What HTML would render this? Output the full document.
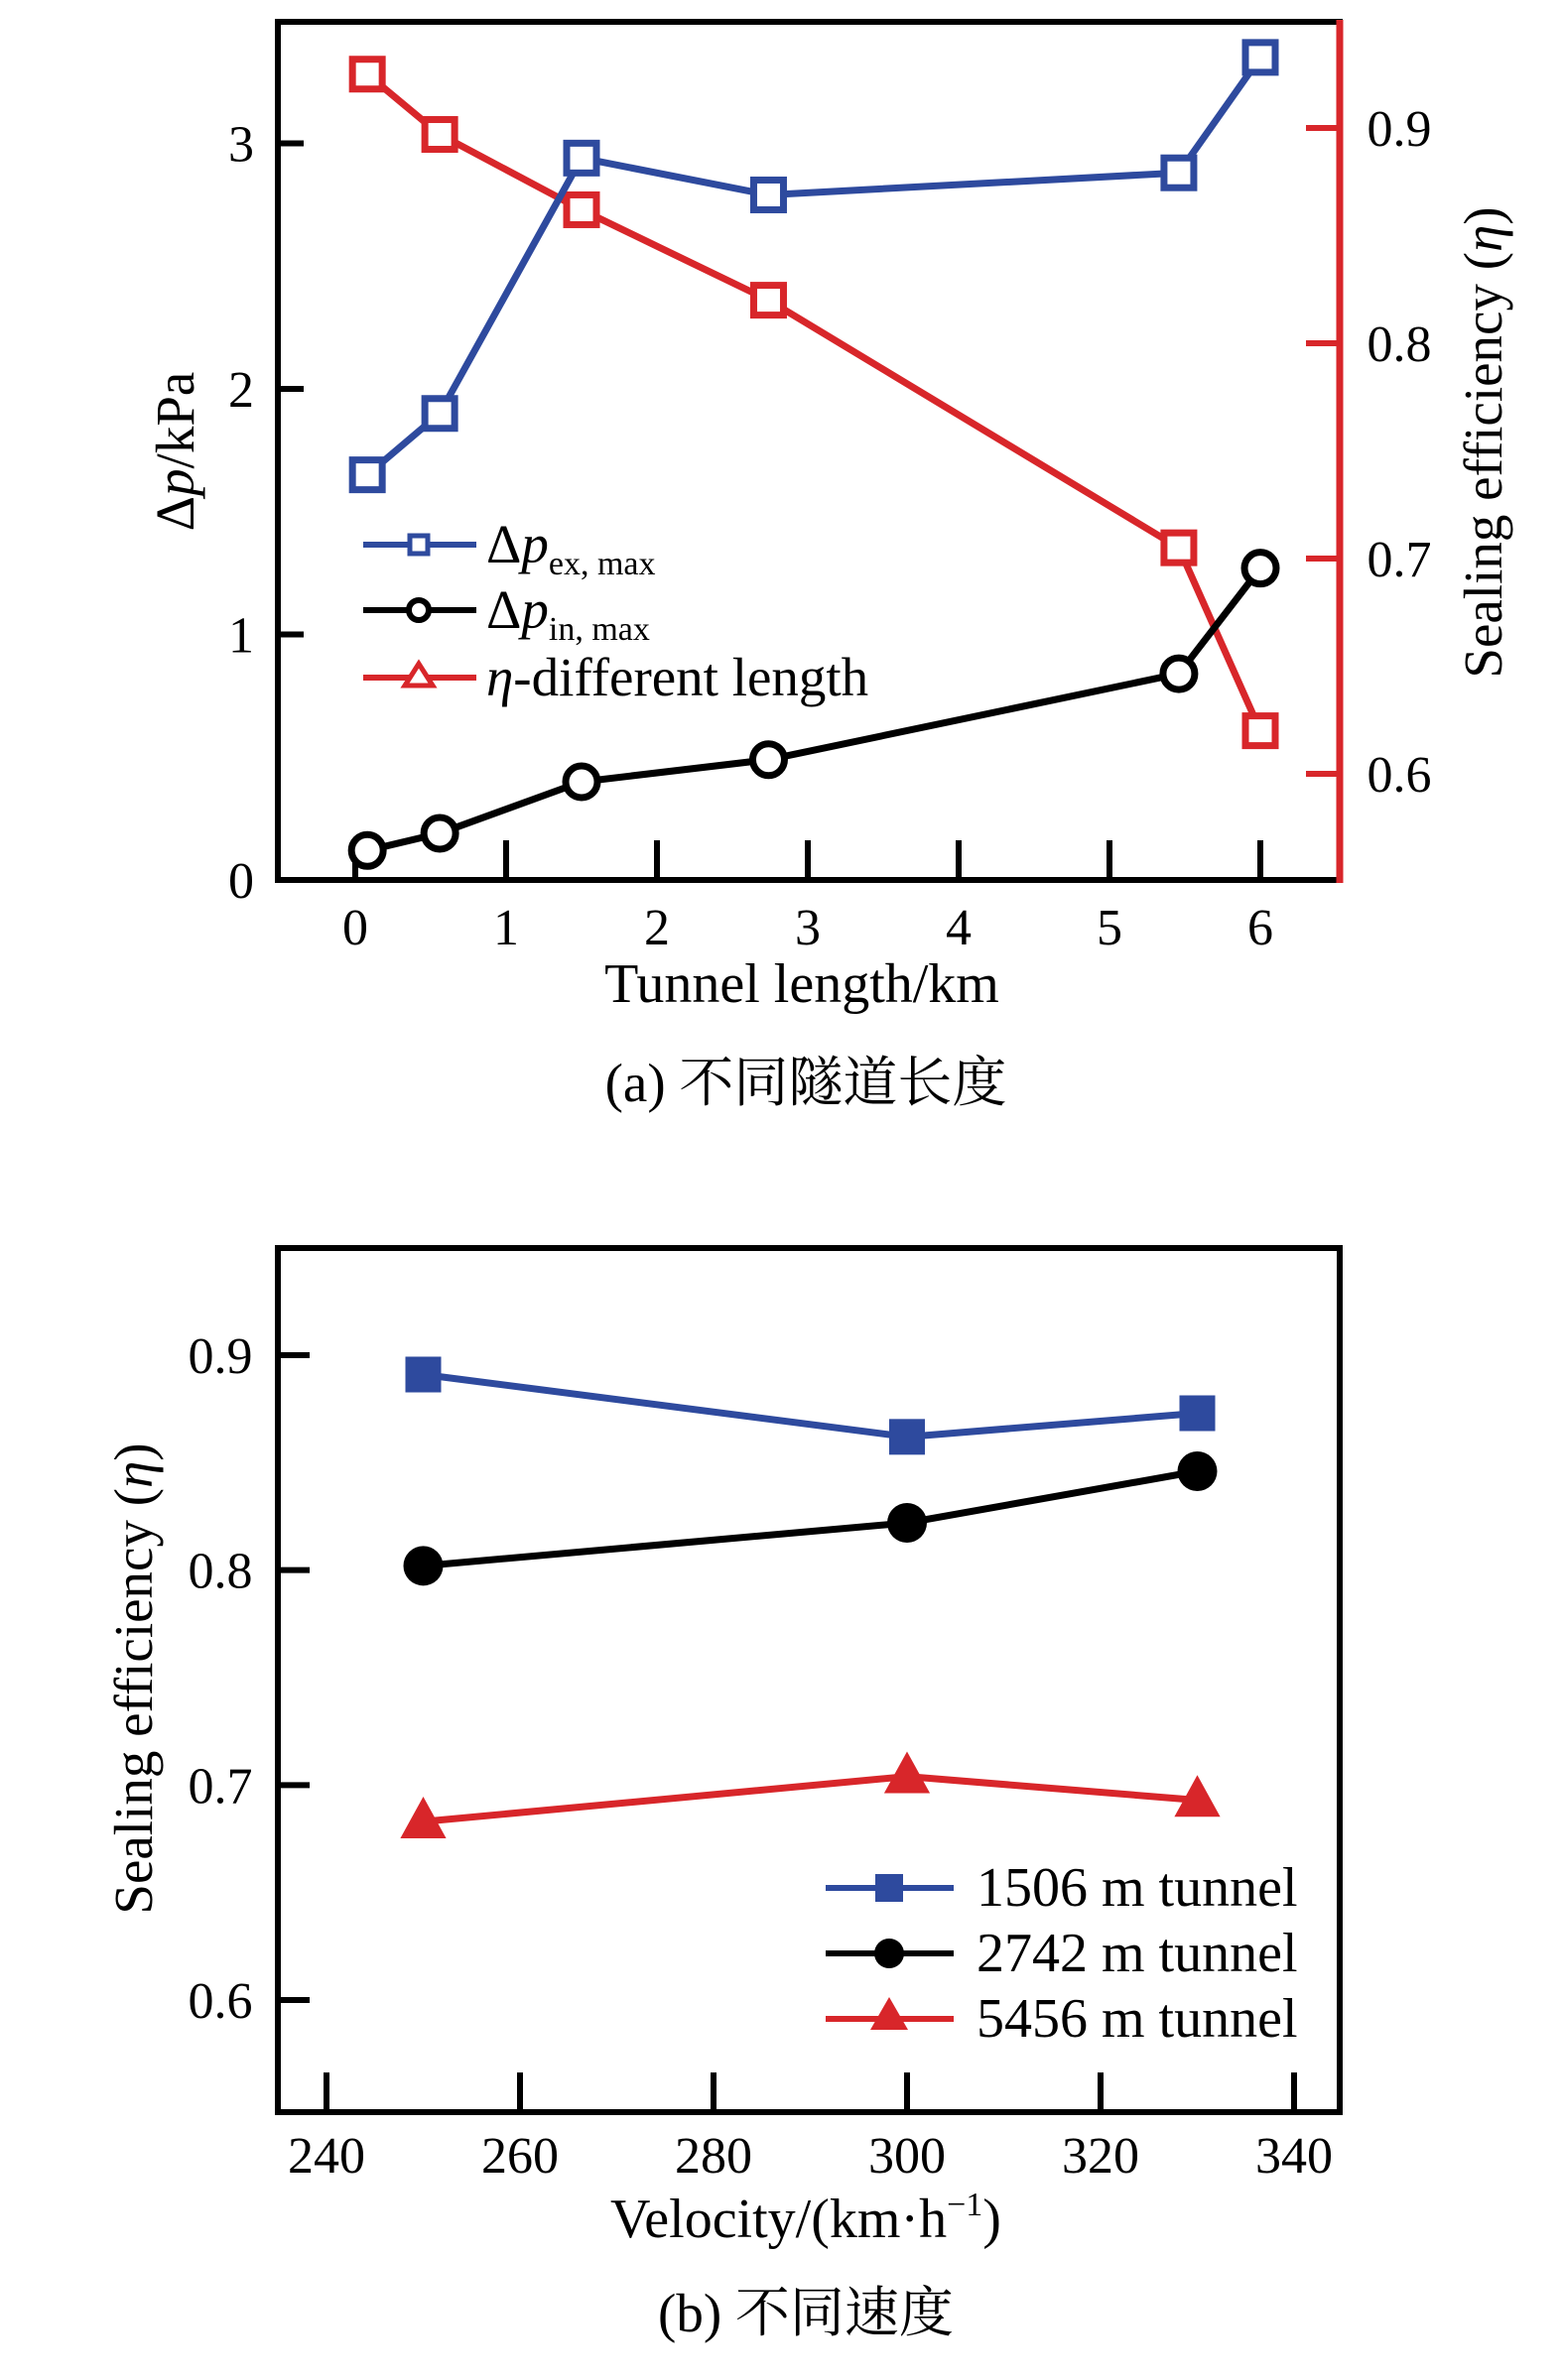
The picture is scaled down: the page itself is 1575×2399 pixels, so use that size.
<!DOCTYPE html>
<html><head><meta charset="utf-8"><style>
body{margin:0;background:#fff}
svg text{font-family:"Liberation Serif","Noto Serif CJK SC",serif}
</style></head><body>
<svg width="1575" height="2394" viewBox="0 0 1575 2394" xmlns="http://www.w3.org/2000/svg">
<g id="ca"></g>
<g id="cb"></g>
</svg>
<script>
const lenX=[0.08,0.56,1.5,2.74,5.46,6.0];
const dpEx=[1.65,1.9,2.94,2.79,2.88,3.35];
const dpIn=[0.12,0.19,0.4,0.49,0.84,1.27];
const etaLen=[0.925,0.897,0.862,0.82,0.705,0.62];
const xTicksA=[0,1,2,3,4,5,6];
const yTicksA=[0,1,2,3];
const yTicksR=[0.6,0.7,0.8,0.9];
const velX=[250,300,330];
const eta1506=[0.891,0.862,0.873];
const eta2742=[0.802,0.822,0.846];
const eta5456=[0.683,0.704,0.693];
const xTicksB=[240,260,280,300,320,340];
const yTicksB=[0.6,0.7,0.8,0.9];
const NS="http://www.w3.org/2000/svg";
const BLUE="#2e4a9e",RED="#d8262a";
function mk(p,t,a,txt){const e=document.createElementNS(NS,t);for(const k in a)e.setAttribute(k,a[k]);if(txt!==undefined)e.textContent=txt;p.appendChild(e);return e;}
const A=document.getElementById('ca'),B=document.getElementById('cb');
const xa=v=>358+v*(1270-358)/6, ya=v=>887-v*247.5, yr=v=>780-(v-0.6)*(780-129)/0.3;
let e;
e=mk(A,'rect',{x:280,y:22,width:1070,height:865,fill:'none',stroke:'#000','stroke-width':6});

e=mk(A,'line',{x1:1350,y1:20,x2:1350,y2:890,stroke:RED,'stroke-width':7});

xTicksA.forEach(v=>{e=mk(A,'line',{x1:xa(v),x2:xa(v),y1:887,y2:847,stroke:'#000','stroke-width':6});
e=mk(A,'text',{x:xa(v),y:952,'font-size':52,'text-anchor':'middle'},v);});
yTicksA.forEach(v=>{e=mk(A,'line',{x1:280,x2:306,y1:ya(v),y2:ya(v),stroke:'#000','stroke-width':6});
e=mk(A,'text',{x:243,y:ya(v)+18,'font-size':52,'text-anchor':'middle'},v);});
yTicksR.forEach(v=>{e=mk(A,'line',{x1:1316,x2:1350,y1:yr(v),y2:yr(v),stroke:RED,'stroke-width':6});
e=mk(A,'text',{x:1410,y:yr(v)+18,'font-size':52,'text-anchor':'middle'},v.toFixed(1));});
e=mk(A,'text',{x:808,y:1010,'font-size':56,'text-anchor':'middle'},'Tunnel length/km');
e=mk(A,'text',{x:812,y:1110,'font-size':55,'text-anchor':'middle'},'(a) 不同隧道长度');
e=mk(A,'text',{transform:'translate(195,455) rotate(-90)','font-size':55,'text-anchor':'middle'});e.innerHTML='Δ<tspan font-style="italic">p</tspan>/kPa';
e=mk(A,'text',{transform:'translate(1513,446) rotate(-90)','font-size':55,'text-anchor':'middle','font-family':'Liberation Sans'});e.innerHTML='Sealing efficiency (<tspan font-style="italic">η</tspan>)';
function series(P,xs,ys,fx,fy,col,kind,name,sz,fill){
 const pts=xs.map((x,i)=>fx(x)+','+fy(ys[i])).join(' ');
 let l=mk(P,'polyline',{points:pts,fill:'none',stroke:col,'stroke-width':7});
 xs.forEach((x,i)=>{const cx=fx(x),cy=fy(ys[i]);let m;
  if(kind==='sq')m=mk(P,'rect',{x:cx-sz,y:cy-sz,width:2*sz,height:2*sz,fill:fill,stroke:col,'stroke-width':fill==='#fff'?7:0});
  else if(kind==='ci')m=mk(P,'circle',{cx:cx,cy:cy,r:sz,fill:fill,stroke:col,'stroke-width':fill==='#fff'?7:0});
  else m=mk(P,'polygon',{points:`${cx},${cy-sz*1.2} ${cx-sz*1.1},${cy+sz*0.8} ${cx+sz*1.1},${cy+sz*0.8}`,fill:fill});
  });
}
series(A,lenX,etaLen,xa,yr,RED,'sq','eta-length',15,'#fff');
series(A,lenX,dpEx,xa,ya,BLUE,'sq','dp-ex-max',15,'#fff');
series(A,lenX,dpIn,xa,ya,'#000','ci','dp-in-max',16,'#fff');
const legA=[[BLUE,'sq','Δ<tspan font-style="italic">p</tspan><tspan font-size="34" dy="12">ex, max</tspan>',549],['#000','ci','Δ<tspan font-style="italic">p</tspan><tspan font-size="34" dy="12">in, max</tspan>',615],[RED,'tr','<tspan font-style="italic">η</tspan>-different length',683]];
legA.forEach(([c,k,t,y])=>{
 e=mk(A,'line',{x1:366,x2:480,y1:y,y2:y,stroke:c,'stroke-width':6});
 if(k==='sq')e=mk(A,'rect',{x:413,y:y-9,width:18,height:18,fill:'#fff',stroke:c,'stroke-width':5});
 else if(k==='ci')e=mk(A,'circle',{cx:422,cy:y,r:10,fill:'#fff',stroke:c,'stroke-width':6});
 else e=mk(A,'polygon',{points:`422,${y-14} 408,${y+8} 436,${y+8}`,fill:'#fff',stroke:c,'stroke-width':5});
 
 e=mk(A,'text',{x:490,y:y+18,'font-size':55});e.innerHTML=t;
});
const xb=v=>329+(v-240)*(1304-329)/100, yb=v=>2016-(v-0.6)*(2016-1366)/0.3;
e=mk(B,'rect',{x:280,y:1258,width:1070,height:871,fill:'none',stroke:'#000','stroke-width':6});
xTicksB.forEach(v=>{e=mk(B,'line',{x1:xb(v),x2:xb(v),y1:2129,y2:2089,stroke:'#000','stroke-width':6});
e=mk(B,'text',{x:xb(v),y:2190,'font-size':52,'text-anchor':'middle'},v);});
yTicksB.forEach(v=>{e=mk(B,'line',{x1:280,x2:312,y1:yb(v),y2:yb(v),stroke:'#000','stroke-width':6});
e=mk(B,'text',{x:222,y:yb(v)+18,'font-size':52,'text-anchor':'middle'},v.toFixed(1));});
e=mk(B,'text',{x:812,y:2255,'font-size':56,'text-anchor':'middle'});e.innerHTML='Velocity/(km·h<tspan font-size="34" dy="-22">−1</tspan><tspan dy="22">)</tspan>';
e=mk(B,'text',{x:812,y:2350,'font-size':55,'text-anchor':'middle'},'(b) 不同速度');
e=mk(B,'text',{transform:'translate(153,1692) rotate(-90)','font-size':55,'text-anchor':'middle','font-family':'Liberation Sans'});e.innerHTML='Sealing efficiency (<tspan font-style="italic">η</tspan>)';
series(B,velX,eta1506,xb,yb,BLUE,'sq','tunnel-1506',18,BLUE);
series(B,velX,eta2742,xb,yb,'#000','ci','tunnel-2742',20,'#000');
series(B,velX,eta5456,xb,yb,RED,'tr','tunnel-5456',21,RED);
const legB=[[BLUE,'sq','1506 m tunnel',1903],['#000','ci','2742 m tunnel',1969],[RED,'tr','5456 m tunnel',2035]];
legB.forEach(([c,k,t,y])=>{
 e=mk(B,'line',{x1:832,x2:961,y1:y,y2:y,stroke:c,'stroke-width':6});
 if(k==='sq')e=mk(B,'rect',{x:882,y:y-14,width:28,height:28,fill:c});
 else if(k==='ci')e=mk(B,'circle',{cx:896,cy:y,r:15,fill:c});
 else e=mk(B,'polygon',{points:`896,${y-22} 877,${y+11} 915,${y+11}`,fill:c});
 
 e=mk(B,'text',{x:984,y:y+18,'font-size':56},t);
});
</script>
</body></html>
